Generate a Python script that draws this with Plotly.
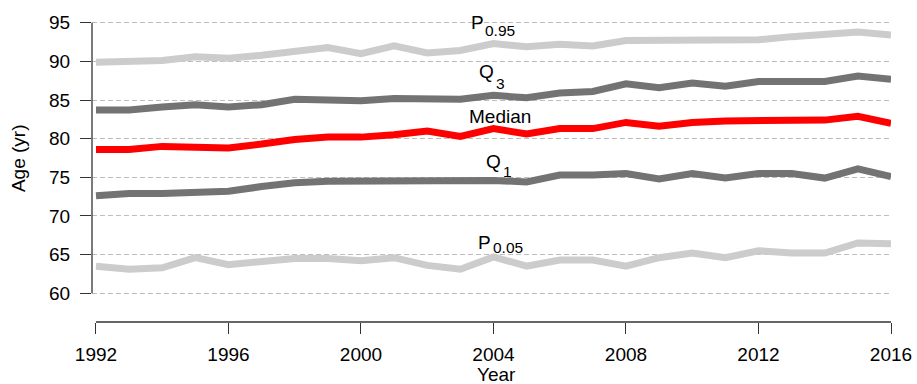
import plotly.graph_objects as go

years = list(range(1992, 2017))

p95 = [89.9, 89.9, 90.1, 90.6, 90.4, 90.8, 91.4, 91.8, 91.0, 92.0, 91.1, 91.4, 92.3, 91.9, 92.2,
       92.0, 92.7, 92.7, 92.7, 92.8, 92.8, 93.2, 93.4, 93.8, 93.4]
q3 = [83.7, 83.7, 84.1, 84.4, 84.1, 84.4, 85.1, 85.1, 84.9, 85.2, 85.2, 85.1, 85.6, 85.3, 85.9,
      86.1, 87.1, 86.6, 87.2, 86.8, 87.4, 87.5, 87.4, 88.1, 87.7]
median = [78.6, 78.6, 79.0, 79.0, 78.8, 79.3, 79.9, 80.2, 80.2, 80.5, 81.0, 80.3, 81.3, 80.6, 81.3,
          81.3, 82.1, 81.6, 82.1, 82.3, 82.3, 82.4, 82.4, 82.9, 82.0]
q1 = [72.6, 72.9, 72.9, 73.0, 73.2, 73.8, 74.3, 74.5, 74.5, 74.6, 74.7, 74.6, 74.6, 74.4, 75.3,
      75.3, 75.5, 74.8, 75.5, 74.9, 75.5, 75.5, 74.9, 76.1, 75.1]
p05 = [63.5, 63.1, 63.3, 64.6, 63.7, 64.1, 64.5, 64.5, 64.2, 64.6, 63.6, 63.1, 64.7, 63.5, 64.3,
       64.3, 63.5, 64.6, 65.2, 64.6, 65.5, 65.2, 65.2, 66.5, 66.4]

y_ticks = [60, 65, 70, 75, 80, 85, 90, 95]
x_ticks = [1992, 1996, 2000, 2004, 2008, 2012, 2016]

LIGHT = "#CCCCCC"
DARK = "#737373"
RED = "#FF0000"
FONT = "Liberation Sans, Arial, Helvetica, sans-serif"

fig = go.Figure()
for vals, col in [(p95, LIGHT), (q3, DARK), (median, RED), (q1, DARK), (p05, LIGHT)]:
    fig.add_trace(go.Scatter(x=years, y=vals, mode="lines",
                             line=dict(color=col, width=7),
                             showlegend=False, hoverinfo="skip", cliponaxis=False))

# series labels: (text, x, y, size, xanchor)
labels = [
    ("P", 2003.29, 95.04, 19, "left"),
    ("0.95", 2003.71, 93.95, 15.5, "left"),
    ("Q", 2003.54, 88.70, 19, "left"),
    ("3", 2004.05, 87.15, 15.5, "left"),
    ("Median", 2004.2, 82.92, 19, "center"),
    ("Q", 2003.74, 77.05, 19, "left"),
    ("1", 2004.25, 75.70, 15.5, "left"),
    ("P", 2003.49, 66.59, 19, "left"),
    ("0.05", 2003.94, 65.97, 15.5, "left"),
]
for txt, x, y, s, xa in labels:
    fig.add_annotation(x=x, y=y, xref="x", yref="y", text=txt, showarrow=False,
                       xanchor=xa, yanchor="middle", borderpad=0,
                       font=dict(size=s, color="black", family=FONT))

# axis titles
fig.add_annotation(x=0.5066, y=-0.172, xref="paper", yref="paper", text="Year",
                   showarrow=False, xanchor="center", yanchor="middle",
                   font=dict(size=19, color="black", family=FONT))
fig.add_annotation(x=-0.0922, y=0.535, xref="paper", yref="paper", text="Age (yr)",
                   showarrow=False, textangle=-90, xanchor="center", yanchor="middle",
                   font=dict(size=19, color="black", family=FONT))

# axis lines (R style, detached)
fig.add_shape(type="line", xref="paper", yref="y", x0=0, x1=0, y0=min(y_ticks), y1=max(y_ticks),
              line=dict(color="#333333", width=1.3))
fig.add_shape(type="line", xref="x", yref="paper", x0=min(x_ticks), x1=max(x_ticks), y0=0, y1=0,
              line=dict(color="#333333", width=1.3))

fig.update_xaxes(range=[1991.88, 2016.0], tickvals=x_ticks, ticks="outside", ticklen=11,
                 tickwidth=1.3, tickcolor="#333333", showline=False, showgrid=False,
                 zeroline=False, ticklabelstandoff=4, automargin=False,
                 tickfont=dict(size=19, color="black", family=FONT))
fig.update_yaxes(range=[56.28, 96], tickvals=y_ticks, ticks="outside", ticklen=11,
                 tickwidth=1.3, tickcolor="#333333", showline=False, showgrid=True,
                 gridcolor="#BEBEBE", gridwidth=1, griddash="5px,3px",
                 zeroline=False, ticklabelstandoff=6, automargin=False,
                 tickfont=dict(size=19, color="black", family=FONT))

fig.update_layout(width=917, height=384, margin=dict(l=92, r=26, t=14.56, b=62),
                  plot_bgcolor="white", paper_bgcolor="white",
                  font=dict(family=FONT, color="black"))

fig.write_html("out.html", config={"displayModeBar": False},
               post_script="document.body.style.margin='0px';document.body.style.overflow='hidden';")
